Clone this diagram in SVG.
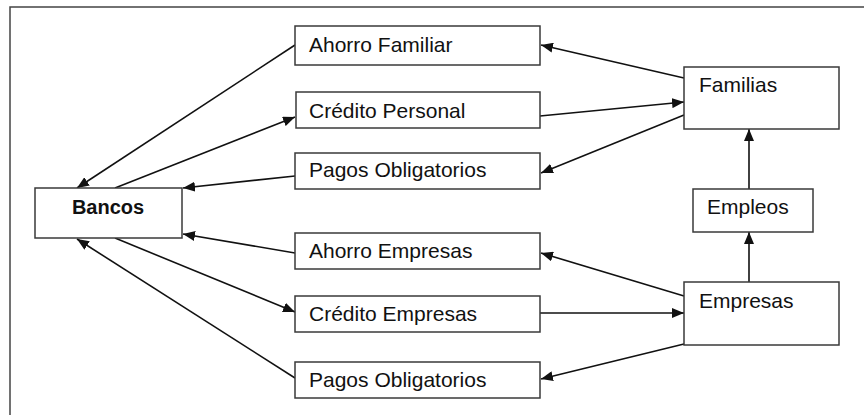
<svg xmlns="http://www.w3.org/2000/svg" width="864" height="415" viewBox="0 0 864 415">
  <style>
    .box { fill: #ffffff; stroke: #3a3a3a; stroke-width: 1.5; }
    .lbl { font-family: "Liberation Sans", Arial, sans-serif; font-size: 21px; fill: #111; }
    .bold { font-weight: bold; font-size: 20px; }
    .edge { stroke: #111; stroke-width: 1.6; fill: none; marker-end: url(#arrow); }
    .frame { stroke: #444; stroke-width: 1.5; fill: none; }
  </style>
  <defs>
    <marker id="arrow" viewBox="0 0 12 10" refX="12" refY="5" markerWidth="12" markerHeight="10" markerUnits="userSpaceOnUse" orient="auto">
      <path d="M0,0 L12,5 L0,10 Z" fill="#111"/>
    </marker>
  </defs>

  <rect width="864" height="415" fill="#ffffff"/>
  <path class="frame" d="M10,415 L10,7 L864,7"/>

  <g id="connectors">
    <!-- left fan: Bancos and the flow boxes -->
    <line class="edge" x1="295" y1="45" x2="77" y2="188"/>
    <line class="edge" x1="115" y1="188" x2="295" y2="117"/>
    <line class="edge" x1="295" y1="176" x2="183" y2="188"/>
    <line class="edge" x1="295" y1="253" x2="183" y2="234"/>
    <line class="edge" x1="115" y1="238" x2="295" y2="312"/>
    <line class="edge" x1="295" y1="378" x2="77" y2="239"/>
    <!-- right fan: Familias / Empresas and the flow boxes -->
    <line class="edge" x1="684" y1="78" x2="541" y2="45"/>
    <line class="edge" x1="540" y1="116" x2="684" y2="102"/>
    <line class="edge" x1="684" y1="115" x2="541" y2="173"/>
    <line class="edge" x1="684" y1="296" x2="541" y2="253"/>
    <line class="edge" x1="540" y1="313" x2="684" y2="313"/>
    <line class="edge" x1="684" y1="344" x2="541" y2="379"/>
    <!-- vertical chain -->
    <line class="edge" x1="749" y1="282" x2="749" y2="232"/>
    <line class="edge" x1="749" y1="189" x2="749" y2="129"/>
  </g>

  <g id="ahorro-familiar">
    <rect class="box" x="295" y="26" width="245" height="39"/>
    <text class="lbl" x="309" y="52">Ahorro Familiar</text>
  </g>
  <g id="credito-personal">
    <rect class="box" x="296" y="92" width="244" height="36"/>
    <text class="lbl" x="309" y="118">Crédito Personal</text>
  </g>
  <g id="pagos-familias">
    <rect class="box" x="295" y="153" width="245" height="36"/>
    <text class="lbl" x="309" y="177">Pagos Obligatorios</text>
  </g>
  <g id="ahorro-empresas">
    <rect class="box" x="295" y="233" width="245" height="36"/>
    <text class="lbl" x="309" y="258">Ahorro Empresas</text>
  </g>
  <g id="credito-empresas">
    <rect class="box" x="295" y="296" width="245" height="36"/>
    <text class="lbl" x="309" y="321">Crédito Empresas</text>
  </g>
  <g id="pagos-empresas">
    <rect class="box" x="295" y="362" width="245" height="36"/>
    <text class="lbl" x="309" y="387">Pagos Obligatorios</text>
  </g>
  <g id="bancos">
    <rect class="box" x="35" y="188" width="147" height="50"/>
    <text class="lbl bold" x="108" y="214" text-anchor="middle">Bancos</text>
  </g>
  <g id="familias">
    <rect class="box" x="684" y="67" width="155" height="62"/>
    <text class="lbl" x="699" y="92">Familias</text>
  </g>
  <g id="empleos">
    <rect class="box" x="693" y="189" width="120" height="43"/>
    <text class="lbl" x="707" y="214">Empleos</text>
  </g>
  <g id="empresas">
    <rect class="box" x="684" y="282" width="155" height="63"/>
    <text class="lbl" x="699" y="308">Empresas</text>
  </g>
</svg>
